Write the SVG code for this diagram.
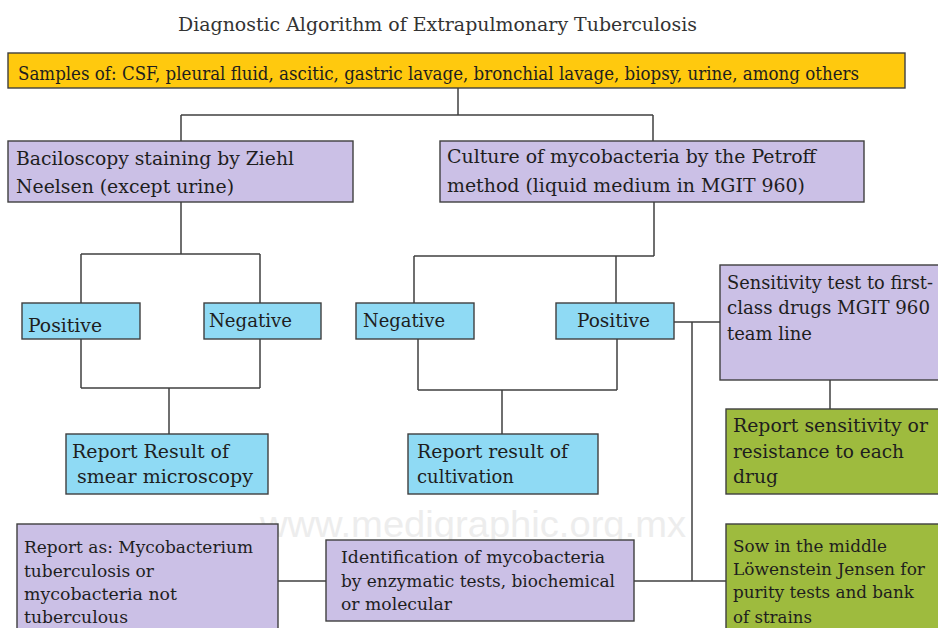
<svg xmlns="http://www.w3.org/2000/svg" width="938" height="628" viewBox="0 0 938 628">
<style>
.t{font-family:"DejaVu Serif","Liberation Serif",serif;fill:#1e1e1e;}
.b{font-size:18.5px;}
.s{font-size:17px;}
.box{stroke:#3f3f3f;stroke-width:1.4;}
.y{fill:#FFC90E;}
.p{fill:#CBC0E6;}
.c{fill:#8FDAF4;}
.g{fill:#9EBB3E;}
.ln{fill:none;stroke:#404040;stroke-width:1.5;}
</style>
<rect width="938" height="628" fill="#ffffff"/>
<text x="260" y="537" textLength="426" lengthAdjust="spacingAndGlyphs" style="font-family:'Liberation Sans',Arial,sans-serif;font-size:36px;fill:#ededed;">www.medigraphic.org.mx</text>
<text class="t" x="178" y="31" textLength="519" lengthAdjust="spacingAndGlyphs" style="font-size:18px;fill:#333;">Diagnostic Algorithm of Extrapulmonary Tuberculosis</text>
<g id="connectors" class="ln">
<path d="M458,88 V115 M181,115 H653 M181,115 V141 M653,115 V141"/>
<path d="M181,202 V254 M81,254 H260 M81,254 V303 M260,254 V303"/>
<path d="M81,339 V388 M260,339 V388 M81,388 H260 M169,388 V434"/>
<path d="M654,202 V256 M414,256 H654 M414,256 V303 M616,256 V303"/>
<path d="M418,339 V390 M617,339 V390 M418,390 H617 M502,390 V434"/>
<path d="M674,322 H720 M692,322 V581 M634,581 H726 M278,581 H326"/>
<path d="M830,380 V409"/>
</g>
<g id="samples">
<rect class="box y" x="8" y="53" width="897" height="35"/>
<text class="t" x="18" y="80" textLength="841" lengthAdjust="spacingAndGlyphs" style="font-size:18px;">Samples of: CSF, pleural fluid, ascitic, gastric lavage, bronchial lavage, biopsy, urine, among others</text>
</g>
<g id="baciloscopy">
<rect class="box p" x="8" y="141" width="345" height="61"/>
<text class="t b" x="16" y="165" textLength="278" lengthAdjust="spacingAndGlyphs">Baciloscopy staining by Ziehl</text>
<text class="t b" x="16" y="193" textLength="218" lengthAdjust="spacingAndGlyphs">Neelsen (except urine)</text>
</g>
<g id="culture">
<rect class="box p" x="440" y="141" width="424" height="61"/>
<text class="t b" x="447" y="163" textLength="369" lengthAdjust="spacingAndGlyphs">Culture of mycobacteria by the Petroff</text>
<text class="t b" x="447" y="192" textLength="358" lengthAdjust="spacingAndGlyphs">method (liquid medium in MGIT 960)</text>
</g>
<g id="positive-smear">
<rect class="box c" x="22" y="303" width="118" height="36"/>
<text class="t b" x="28" y="332" textLength="74" lengthAdjust="spacingAndGlyphs">Positive</text>
</g>
<g id="negative-smear">
<rect class="box c" x="204" y="303" width="117" height="36"/>
<text class="t b" x="209" y="327" textLength="83" lengthAdjust="spacingAndGlyphs">Negative</text>
</g>
<g id="negative-culture">
<rect class="box c" x="356" y="303" width="118" height="36"/>
<text class="t b" x="363" y="327" textLength="82" lengthAdjust="spacingAndGlyphs">Negative</text>
</g>
<g id="positive-culture">
<rect class="box c" x="556" y="303" width="118" height="36"/>
<text class="t b" x="577" y="327" textLength="73" lengthAdjust="spacingAndGlyphs">Positive</text>
</g>
<g id="report-smear">
<rect class="box c" x="66" y="434" width="202" height="60"/>
<text class="t b" x="72" y="458" textLength="157" lengthAdjust="spacingAndGlyphs">Report Result of</text>
<text class="t b" x="77" y="483" textLength="176" lengthAdjust="spacingAndGlyphs">smear microscopy</text>
</g>
<g id="report-cultivation">
<rect class="box c" x="408" y="434" width="190" height="60"/>
<text class="t b" x="417" y="458" textLength="151" lengthAdjust="spacingAndGlyphs">Report result of</text>
<text class="t b" x="417" y="483" textLength="97" lengthAdjust="spacingAndGlyphs">cultivation</text>
</g>
<g id="sensitivity-test">
<rect class="box p" x="720" y="265" width="222" height="115"/>
<text class="t" x="727" y="289" textLength="206" lengthAdjust="spacingAndGlyphs" style="font-size:17.6px;">Sensitivity test to first-</text>
<text class="t b" x="727" y="314" textLength="203" lengthAdjust="spacingAndGlyphs">class drugs MGIT 960</text>
<text class="t b" x="727" y="340" textLength="85" lengthAdjust="spacingAndGlyphs">team line</text>
</g>
<g id="report-sensitivity">
<rect class="box g" x="726" y="409" width="216" height="85"/>
<text class="t b" x="733" y="432" textLength="195" lengthAdjust="spacingAndGlyphs">Report sensitivity or</text>
<text class="t b" x="733" y="458" textLength="171" lengthAdjust="spacingAndGlyphs">resistance to each</text>
<text class="t b" x="733" y="483" textLength="45" lengthAdjust="spacingAndGlyphs">drug</text>
</g>
<g id="sow">
<rect class="box g" x="726" y="524" width="216" height="110"/>
<text class="t s" x="733" y="552" textLength="154" lengthAdjust="spacingAndGlyphs">Sow in the middle</text>
<text class="t s" x="733" y="575" textLength="192" lengthAdjust="spacingAndGlyphs">Löwenstein Jensen for</text>
<text class="t s" x="733" y="598" textLength="181" lengthAdjust="spacingAndGlyphs">purity tests and bank</text>
<text class="t s" x="733" y="623" textLength="79" lengthAdjust="spacingAndGlyphs">of strains</text>
</g>
<g id="identification">
<rect class="box p" x="326" y="540" width="308" height="81"/>
<text class="t s" x="341" y="563" textLength="264" lengthAdjust="spacingAndGlyphs">Identification of mycobacteria</text>
<text class="t s" x="341" y="587" textLength="274" lengthAdjust="spacingAndGlyphs">by enzymatic tests, biochemical</text>
<text class="t s" x="341" y="610" textLength="111" lengthAdjust="spacingAndGlyphs">or molecular</text>
</g>
<g id="report-as">
<rect class="box p" x="17" y="524" width="261" height="110"/>
<text class="t s" x="24" y="553" textLength="229" lengthAdjust="spacingAndGlyphs">Report as: Mycobacterium</text>
<text class="t s" x="24" y="577" textLength="130" lengthAdjust="spacingAndGlyphs">tuberculosis or</text>
<text class="t s" x="24" y="600" textLength="153" lengthAdjust="spacingAndGlyphs">mycobacteria not</text>
<text class="t s" x="24" y="623" textLength="104" lengthAdjust="spacingAndGlyphs">tuberculous</text>
</g>
</svg>
